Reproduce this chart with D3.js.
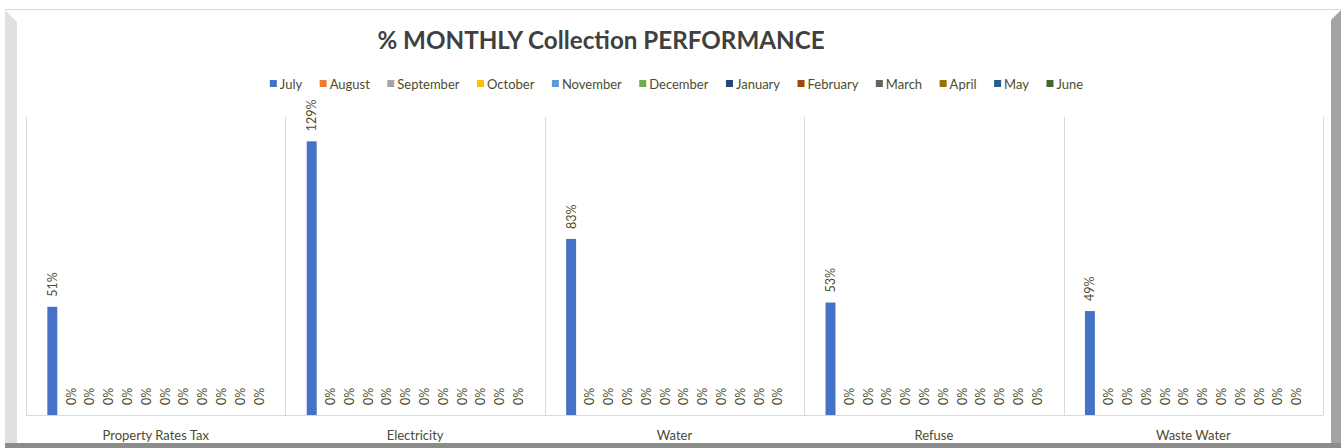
<!DOCTYPE html>
<html><head><meta charset="utf-8">
<script src="https://cdn.jsdelivr.net/npm/d3@7"></script>
<style>body{margin:0;background:#fff;}svg{display:block;font-family:Lato,"Open Sans",sans-serif;}</style>
</head><body>
<svg id="c" width="1344" height="448"></svg>
<script>
const title = "% MONTHLY Collection PERFORMANCE";
const categories = ["Property Rates Tax","Electricity","Water","Refuse","Waste Water"];
const months = ["July","August","September","October","November","December","January","February","March","April","May","June"];
const colors = ["#4472C4","#ED7D31","#A5A5A5","#FFC000","#5B9BD5","#70AD47","#264478","#9E480E","#636363","#997300","#255E91","#43682B"];
// values in %, per month, per category
const july     = [51,129,83,53,49];
const august   = [0,0,0,0,0];
const september= [0,0,0,0,0];
const october  = [0,0,0,0,0];
const november = [0,0,0,0,0];
const december = [0,0,0,0,0];
const january  = [0,0,0,0,0];
const february = [0,0,0,0,0];
const march    = [0,0,0,0,0];
const april    = [0,0,0,0,0];
const may      = [0,0,0,0,0];
const june     = [0,0,0,0,0];
const series = [july,august,september,october,november,december,january,february,march,april,may,june];

const svg = d3.select("#c");
const textCol = "#4c4c2e";

// frame
svg.append("polygon").attr("points","5,10 17,22 17,443 5,448").attr("fill","#e0e0e0");
svg.append("line").attr("x1",5).attr("x2",1340).attr("y1",9.5).attr("y2",9.5).attr("stroke","#d6d6d6");
svg.append("polygon").attr("points","1331,20 1341,10 1341,448 1331,448").attr("fill","#a3a3a3");
svg.append("rect").attr("x",5).attr("y",443).attr("width",1336).attr("height",5).attr("fill","#8c8c8c");
svg.append("rect").attr("x",17).attr("y",10).attr("width",1314).attr("height",433).attr("fill","#fff");

const pLeft = 26, pRight = 1323, pTop = 117, pBottom = 415;
const x0 = d3.scaleBand().domain(categories).range([pLeft,pRight]).padding(0);
const x1 = d3.scaleBand().domain(months).range([0,x0.bandwidth()]).paddingInner(0.47).paddingOuter(1.135);
const y = d3.scaleLinear().domain([0,140]).range([pBottom,118]);

// gridlines at category boundaries
const bounds = categories.map(c=>x0(c)).concat([x0(categories[categories.length-1])+x0.bandwidth()]);
svg.append("g").selectAll("line").data(bounds).join("line")
  .attr("x1",d=>Math.round(d)+0.5).attr("x2",d=>Math.round(d)+0.5)
  .attr("y1",pTop).attr("y2",pBottom).attr("stroke","#d9d9d9").attr("stroke-width",1);
svg.append("line").attr("x1",pLeft).attr("x2",pRight).attr("y1",pBottom+0.5).attr("y2",pBottom+0.5).attr("stroke","#d9d9d9");

// bars
const flat = [];
series.forEach((s,i)=>s.forEach((v,j)=>flat.push({m:months[i],c:categories[j],v,col:colors[i]})));
svg.append("g").selectAll("rect").data(flat).join("rect")
  .attr("x",d=>x0(d.c)+x1(d.m)).attr("width",x1.bandwidth())
  .attr("y",d=>y(d.v)).attr("height",d=>y(0)-y(d.v)).attr("fill",d=>d.col);

// data labels
svg.append("g").selectAll("text").data(flat).join("text")
  .attr("transform",d=>`translate(${x0(d.c)+x1(d.m)+x1.bandwidth()/2+4.5},${y(d.v)-10}) rotate(-90)`)
  .attr("text-anchor","start").attr("font-size",12.5).attr("fill",textCol)
  .text(d=>d.v+"%");

// category axis labels
const xAxis = d3.axisBottom(x0).tickSize(0).tickPadding(0);
const gx = svg.append("g").attr("transform",`translate(0,${pBottom})`).call(xAxis);
gx.select(".domain").remove();
gx.selectAll("text").attr("font-size",13).attr("fill",textCol).attr("font-family","Lato").attr("dy",null).attr("y",24.5);

// title
svg.append("text").attr("x",601).attr("y",49).attr("text-anchor","middle")
  .attr("font-size",24.2).attr("font-weight","bold").attr("fill","#404040").text(title);

// legend
const lg = svg.append("g");
const gap = 17.5;
let xpos = 0;
months.forEach((m,i)=>{
  const g = lg.append("g");
  g.append("rect").attr("x",0).attr("y",-4).attr("width",7).attr("height",7).attr("fill",colors[i]);
  const t = g.append("text").attr("x",10).attr("y",4.5).attr("font-size",13).attr("fill",textCol).text(m);
  const w = t.node().getComputedTextLength();
  g.attr("transform",`translate(${xpos},0)`);
  xpos += 10 + w + gap;
});
const totalW = xpos - gap;
lg.attr("transform",`translate(${676.5-totalW/2},84)`);
</script>
</body></html>
